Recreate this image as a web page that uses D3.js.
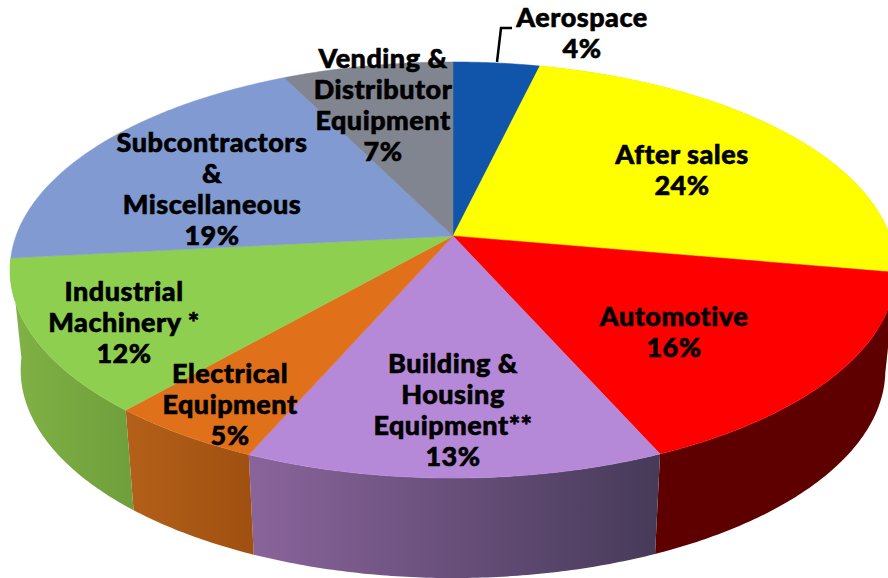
<!DOCTYPE html>
<html>
<head>
<meta charset="utf-8">
<title>Sales by market</title>
<script src="https://cdn.jsdelivr.net/npm/d3@7"></script>
<style>
    html, body { margin: 0; padding: 0; background: #fff; }
    svg { display: block; }
    text { font-family: Lato, "Open Sans", sans-serif; font-weight: 900; fill: #000; stroke: #000; stroke-width: 0.6px; letter-spacing: 0.5px; text-anchor: middle; }
</style>
</head>
<body>
<div id="chart"></div>
<script>
// shares, clockwise from 12 o'clock
var sectors = ["Aerospace", "After sales", "Automotive", "Building & Housing Equipment**", "Electrical Equipment", "Industrial Machinery *", "Subcontractors & Miscellaneous", "Vending & Distributor Equipment"];
var shares = [3.7, 24.1, 15.6, 13.1, 4.9, 11.9, 19.4, 7.3];
var labelLines = [
    ["Aerospace"],
    ["After sales"],
    ["Automotive"],
    ["Building &", "Housing", "Equipment**"],
    ["Electrical", "Equipment"],
    ["Industrial", "Machinery *"],
    ["Subcontractors", "&", "Miscellaneous"],
    ["Vending &", "Distributor", "Equipment"]
];

// styling, same order as sectors
var topColors = ["#1155aa", "#ffff00", "#ff0000", "#b688d8", "#e0701a", "#8fcf4f", "#819ad2", "#808590"];
var wallFrom = ["#0c3d7a", "#b5b500", "#5e0000", "#8a649c", "#b4601a", "#80b246", "#5c6e96", "#5b5f67"];
var wallTo = ["#0c3d7a", "#b5b500", "#5e0000", "#463a58", "#a05010", "#6fa03c", "#5c6e96", "#5b5f67"];
// [centre x, first baseline]
var labelPos = [[582, 27], [682, 164], [674, 326], [453, 373], [230, 383], [124, 301], [212, 152], [383, 68]];
var lineStep = 31;

var width = 888, height = 578;
var cx = 453, cy = 236, rx = 437;
var a = -163.9, c = 0.1635;     // perspective of the disc
var depthY = 100, shrink = 0.976;

var svg = d3.select("#chart")
        .append("svg")
        .attr("width", width)
        .attr("height", height)
        .style("background-color", "#fff");

// a point of the unit circle seen in perspective
function project(angle, r) {
    var u = Math.sin(angle) * r, v = Math.cos(angle) * r;
    var w = 1 + c * v;
    return [cx + rx * u / w, (a * v + cy) / w];
}

function projectBottom(angle) {
    var p = project(angle, 1);
    return [cx + (p[0] - cx) * shrink, p[1] + depthY];
}

function arcAngles(d) {
    var n = Math.ceil((d.endAngle - d.startAngle) / 0.01);
    return d3.range(n + 1).map((i) => d.startAngle + (d.endAngle - d.startAngle) * i / n);
}

var pie = d3.pie().sort(null).value((d) => d);
var slices = pie(shares);
var line = d3.line();

// wall gradients
var defs = svg.append("defs");
slices.forEach((d, i) => {
    var x0 = project(d.startAngle, 1)[0], x1 = project(d.endAngle, 1)[0];
    var grad = defs.append("linearGradient")
            .attr("id", "wall_" + i)
            .attr("gradientUnits", "userSpaceOnUse")
            .attr("x1", Math.max(x0, x1)).attr("x2", Math.min(x0, x1))
            .attr("y1", 0).attr("y2", 0);
    // the colours run left to right on the picture
    grad.append("stop").attr("offset", 0).attr("stop-color", wallTo[i]);
    grad.append("stop").attr("offset", 1).attr("stop-color", wallFrom[i]);
});

// side walls, only the ones facing us
var front = slices.map((d, i) => ({d: d, i: i})).filter((s) => s.d.endAngle > Math.PI / 2 && s.d.startAngle < 1.4 * Math.PI);
svg.append("g").selectAll("path")
        .data(front)
        .enter()
        .append("path")
        .attr("d", (s) => {
            var angles = arcAngles(s.d);
            return line(angles.map((t) => project(t, 1)).concat(angles.slice().reverse().map(projectBottom))) + "Z";
        })
        .attr("fill", (s) => "url(#wall_" + s.i + ")");

// top of the pie
svg.append("g").selectAll("path")
        .data(slices)
        .enter()
        .append("path")
        .attr("d", (d) => line([[cx, cy]].concat(arcAngles(d).map((t) => project(t, 1)))) + "Z")
        .attr("fill", (d, i) => topColors[i])
        .attr("stroke", (d, i) => topColors[i])
        .attr("stroke-width", 0.5);

// leader line for the aerospace label
svg.append("path")
        .attr("d", line([[497, 62], [501, 28], [512, 28]]))
        .attr("fill", "none")
        .attr("stroke", "#000")
        .attr("stroke-width", 2.5);

// labels: name lines and then the rounded percentage
var labels = svg.append("g").selectAll("text")
        .data(slices)
        .enter()
        .append("text")
        .attr("font-size", 27);
labels.selectAll("tspan")
        .data((d, i) => labelLines[i].concat(Math.round(d.data) + "%").map((t, k) => ({t: t, k: k, i: i})))
        .enter()
        .append("tspan")
        .attr("x", (l) => labelPos[l.i][0])
        .attr("y", (l) => labelPos[l.i][1] + l.k * lineStep)
        .text((l) => l.t);
</script>
</body>
</html>
